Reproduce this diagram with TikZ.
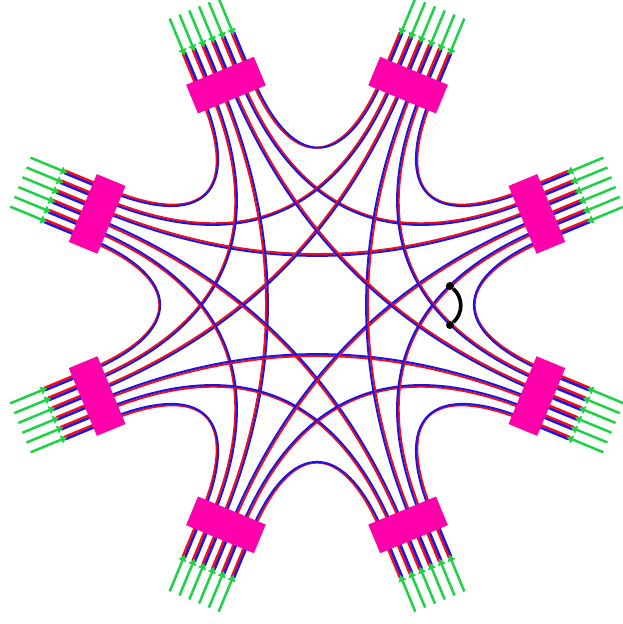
\documentclass[tikz,border=0pt]{standalone}
\usetikzlibrary{arrows.meta}
\definecolor{wireRed}{RGB}{250,10,20}
\definecolor{wireBlue}{RGB}{30,20,225}
\definecolor{wireGreen}{RGB}{30,210,70}
\definecolor{blockPink}{RGB}{255,0,170}
\tikzset{
  redwire/.style={wireRed,line width=0.06cm},
  bluewire/.style={wireBlue,line width=0.06cm},
  redstub/.style={wireRed,line width=0.075cm},
  bluestub/.style={wireBlue,line width=0.075cm},
  feedwire/.style={wireGreen,line width=0.075cm,-{Latex[length=0.2cm,width=0.28cm]}},
  portblock/.style={fill=blockPink,inner sep=0pt,minimum width=0.93cm,minimum height=2.2cm},
  tapdot/.style={circle,fill=black,inner sep=0pt,minimum size=0.24cm}
}
\begin{document}
\begin{tikzpicture}[x=0.03cm,y=0.03cm]
  \useasboundingbox (0,0) rectangle (622,624);
  \begin{scope}[shift={(317,319)}]
    % curved pairs between the ports
    \foreach \p in {0,...,7} {
      \foreach \q/\L/\s in {1/105/26.5,2/148/15.9,3/160/5.3} {
        \pgfmathsetmacro\ta{22.5+45*\p}
        \pgfmathsetmacro\tb{\ta+45*\q}
        \pgfmathsetmacro\sb{(\p==1 && \q==1) ? 1 : -1}
        \draw[redwire] ([rotate=\ta]238,\s+1) .. controls ([rotate=\ta]238-\L,\s+1) and ([rotate=\tb]238-\L,-\s+\sb) .. ([rotate=\tb]238,-\s+\sb);
        \draw[bluewire] ([rotate=\ta]238,\s-1) .. controls ([rotate=\ta]238-\L,\s-1) and ([rotate=\tb]238-\L,-\s-\sb) .. ([rotate=\tb]238,-\s-\sb);
      }
    }
    % straight stubs, feed lines and block of each port
    \foreach \p in {0,...,7} {
      \pgfmathsetmacro\ta{22.5+45*\p}
      \pgfmathsetmacro\sa{(\p<3 || \p==7) ? 1.2 : -1.2}
      \foreach \s [count=\j] in {-26.5,-15.9,-5.3,5.3,15.9,26.5} {
        \draw[redstub] ([rotate=\ta]238,\s+\sa) -- ([rotate=\ta]284,\s+\sa);
        \draw[bluestub] ([rotate=\ta]238,\s-\sa) -- ([rotate=\ta]284,\s-\sa);
        \coordinate (out\p-\j) at ([rotate=\ta]321,\s);
        \coordinate (in\p-\j) at ([rotate=\ta]281,\s);
        \draw[feedwire] (out\p-\j) -- (in\p-\j);
      }
      \node[portblock,rotate=\ta] (port\p) at (\ta:238) {};
    }
  \end{scope}
  % black link
  \node[tapdot] (tapA) at (450,338) {};
  \node[tapdot] (tapB) at (450,299) {};
  \draw[black,line width=0.11cm] (tapA) to[bend left=50] (tapB);
\end{tikzpicture}
\end{document}
